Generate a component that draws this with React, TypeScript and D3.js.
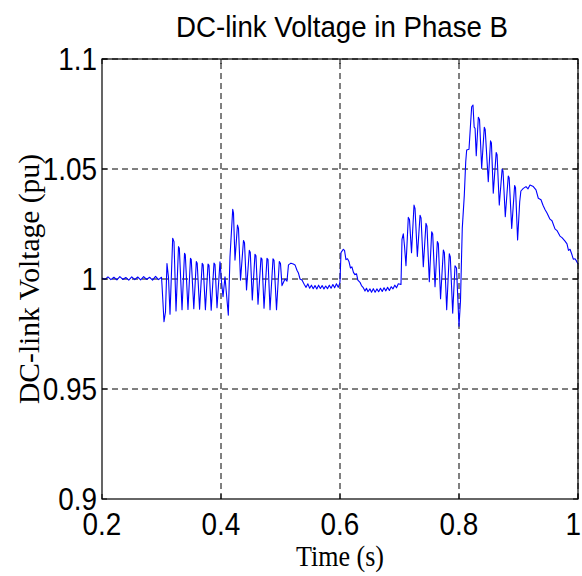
import React, { useEffect, useRef } from "react";
import * as d3 from "d3";

const title = "DC-link Voltage in Phase B";
const xLabel = "Time (s)";
const yLabel = "DC-link Voltage (pu)";

const xTicks = [0.2, 0.4, 0.6, 0.8, 1];
const xTickLabels = ["0.2", "0.4", "0.6", "0.8", "1"];
const yTicks = [0.9, 0.95, 1, 1.05, 1.1];
const yTickLabels = ["0.9", "0.95", "1", "1.05", "1.1"];

// [time (s), voltage (pu)]
const steady = [
  [0.2, 1.0005], [0.205, 0.9998], [0.21, 1.001], [0.215, 0.9997], [0.22, 1.0008],
  [0.225, 0.9996], [0.23, 1.0011], [0.235, 0.9998], [0.24, 1.0007], [0.245, 0.9995],
  [0.25, 1.001], [0.255, 0.9997], [0.26, 1.0009], [0.265, 0.9996], [0.27, 1.0011],
  [0.275, 0.9998], [0.28, 1.0008], [0.285, 0.9995], [0.29, 1.0012], [0.295, 0.9997],
  [0.3, 1.0008],
];

const event1 = [
  [0.3008, 0.9975], [0.3042, 0.9806], [0.3067, 0.985], [0.3092, 1.007], [0.3118, 1.0005],
  [0.3143, 0.984], [0.3188, 1.0185], [0.321, 1.017], [0.3244, 0.9855], [0.3286, 1.0147],
  [0.33, 1.014], [0.3345, 0.986], [0.3387, 1.0117], [0.34, 1.011], [0.3445, 0.9862],
  [0.3487, 1.0094], [0.35, 1.0088], [0.3543, 0.9865], [0.3585, 1.0079], [0.36, 1.0072],
  [0.364, 0.9863], [0.3684, 1.0071], [0.37, 1.0065], [0.3738, 0.986], [0.3782, 1.0068],
  [0.3798, 1.0062], [0.3835, 0.9858], [0.3882, 1.0072], [0.3899, 1.0066], [0.3933, 0.987],
  [0.3983, 1.0078],
];

const event2 = [
  [0.4008, 0.999], [0.4034, 0.992], [0.4067, 1.001], [0.4123, 0.9836], [0.4151, 1.01],
  [0.4197, 1.0317], [0.421, 1.03], [0.4235, 1.0086], [0.4277, 1.0245], [0.4294, 1.023],
  [0.4328, 0.9995], [0.4378, 1.0175], [0.4395, 1.0165], [0.4429, 0.995], [0.4476, 1.013],
  [0.4492, 1.0122], [0.4526, 0.9905], [0.4571, 1.0112], [0.4588, 1.0105], [0.4622, 0.9885],
  [0.4672, 1.0096], [0.4689, 1.009], [0.4723, 0.9867], [0.4773, 1.0094], [0.479, 1.0088],
  [0.4824, 0.986], [0.4874, 1.0092], [0.4891, 1.0085], [0.4933, 0.986], [0.498, 1.0079],
  [0.5, 1.007], [0.5025, 0.997], [0.5076, 1.0], [0.5109, 0.999], [0.5134, 1.0064],
  [0.5176, 1.0072], [0.5215, 1.0068], [0.5244, 1.0064], [0.5277, 1.004], [0.5303, 1.0026],
  [0.5328, 1.0], [0.5361, 0.9995], [0.54, 0.9975], [0.543, 0.9962], [0.546, 0.9978],
  [0.549, 0.9958], [0.552, 0.9972], [0.555, 0.9956], [0.558, 0.997], [0.561, 0.9955],
  [0.564, 0.9972], [0.567, 0.9957], [0.57, 0.997], [0.573, 0.9955], [0.576, 0.9968],
  [0.579, 0.9956], [0.582, 0.9972], [0.585, 0.9958], [0.588, 0.9975], [0.591, 0.996],
  [0.594, 0.9978], [0.597, 0.9962], [0.5995, 0.998],
];

const event3 = [
  [0.6, 0.999], [0.6017, 1.012], [0.6055, 1.0135], [0.6076, 1.013], [0.61, 1.0088],
  [0.6126, 1.0092], [0.615, 1.008], [0.6176, 1.005], [0.62, 1.0055], [0.6226, 1.003],
  [0.625, 1.002], [0.6277, 1.0024], [0.63, 0.9995], [0.6336, 0.9985], [0.6361, 0.997],
  [0.6387, 0.9962], [0.642, 0.9945], [0.6445, 0.9958], [0.647, 0.9942], [0.6504, 0.9955],
  [0.653, 0.994], [0.656, 0.9956], [0.659, 0.994], [0.662, 0.9955], [0.665, 0.9942],
  [0.668, 0.9958], [0.671, 0.9943], [0.674, 0.996], [0.677, 0.9946], [0.68, 0.9962],
  [0.683, 0.9948], [0.686, 0.9965], [0.689, 0.9955], [0.692, 0.9972], [0.695, 0.996],
  [0.698, 0.9978], [0.7025, 0.9975],
];

const event4 = [
  [0.7042, 1.018], [0.7064, 1.0205], [0.7084, 1.015], [0.7109, 1.006], [0.7148, 1.028],
  [0.7168, 1.027], [0.7202, 1.012], [0.7244, 1.0336], [0.7261, 1.032], [0.73, 1.0102],
  [0.7345, 1.029], [0.7362, 1.0278], [0.74, 1.0056], [0.7445, 1.0253], [0.7462, 1.024],
  [0.7501, 0.9988], [0.7541, 1.0215], [0.7558, 1.0205], [0.7597, 0.9965], [0.7636, 1.017],
  [0.7653, 1.016], [0.769, 0.991], [0.7737, 1.0132], [0.7754, 1.012], [0.7793, 0.986],
  [0.7837, 1.0115], [0.7854, 1.01], [0.7894, 0.9845], [0.7933, 1.006], [0.7958, 1.005],
  [0.8, 0.9785],
];

const event5 = [
  [0.8025, 0.99], [0.8042, 1.009], [0.8055, 1.023], [0.8089, 1.038], [0.8113, 1.0533],
  [0.8129, 1.0586], [0.8168, 1.059], [0.819, 1.0685], [0.8213, 1.0783], [0.8235, 1.0791],
  [0.8255, 1.069], [0.827, 1.0685], [0.829, 1.056], [0.8325, 1.0735], [0.8345, 1.0725],
  [0.8381, 1.0503], [0.8425, 1.069], [0.844, 1.068], [0.8492, 1.0442], [0.853, 1.0628],
  [0.8545, 1.0618], [0.8576, 1.039], [0.8625, 1.0575], [0.864, 1.0565], [0.8677, 1.0336],
  [0.8725, 1.05], [0.874, 1.049], [0.8778, 1.0283], [0.8828, 1.0468], [0.8843, 1.046],
  [0.8886, 1.023], [0.8935, 1.0425], [0.895, 1.0415], [0.8985, 1.0177], [0.902, 1.035],
  [0.904, 1.04], [0.9081, 1.0412], [0.9126, 1.042], [0.916, 1.041], [0.9193, 1.0427],
  [0.9249, 1.042], [0.9294, 1.0405], [0.9333, 1.0367], [0.9378, 1.036], [0.9412, 1.0335],
  [0.9445, 1.0316], [0.9479, 1.03], [0.9529, 1.0272], [0.9563, 1.0265], [0.9613, 1.0228],
  [0.9647, 1.022], [0.9697, 1.0195], [0.9731, 1.0188], [0.9782, 1.0172], [0.9815, 1.016],
  [0.984, 1.013], [0.9866, 1.0135], [0.9899, 1.011], [0.9921, 1.009], [0.995, 1.0092],
  [0.9978, 1.008], [1.0, 1.0068],
];

const W = 582;
const H = 576;
const margin = { left: 102, right: 4, top: 59, bottom: 77 };

const App = () => {
  const ref = useRef(null);

  useEffect(() => {
    const svg = d3.select(ref.current);
    svg.selectAll("*").remove();

    const data = [...steady, ...event1, ...event2, ...event3, ...event4, ...event5];

    const x = d3.scaleLinear().domain([0.2, 1]).range([margin.left, W - margin.right]);
    const y = d3.scaleLinear().domain([0.9, 1.1]).range([H - margin.bottom, margin.top]);

    svg.append("rect").attr("width", W).attr("height", H).attr("fill", "#fff");

    const x0 = x(0.2), x1 = x(1), y0 = y(0.9), y1 = y(1.1);

    // dashed grid
    const grid = svg.append("g").attr("stroke", "#000").attr("stroke-width", 1).attr("stroke-dasharray", "6,4");
    xTicks.slice(1).forEach((t) => {
      grid.append("line").attr("x1", x(t)).attr("x2", x(t)).attr("y1", y0).attr("y2", y1);
    });
    yTicks.slice(1).forEach((t) => {
      grid.append("line").attr("x1", x0).attr("x2", x1).attr("y1", y(t)).attr("y2", y(t));
    });

    // trace
    const line = d3.line().x((d) => x(d[0])).y((d) => y(d[1]));
    svg.append("path")
      .datum(data)
      .attr("d", line)
      .attr("fill", "none")
      .attr("stroke", "#0000ff")
      .attr("stroke-width", 1.1)
      .attr("stroke-linejoin", "round");

    // box + inward ticks
    svg.append("rect")
      .attr("x", x0).attr("y", y1)
      .attr("width", x1 - x0).attr("height", y0 - y1)
      .attr("fill", "none").attr("stroke", "#000").attr("stroke-width", 1.2);

    const ticks = svg.append("g").attr("stroke", "#000").attr("stroke-width", 1);
    xTicks.forEach((t) => {
      ticks.append("line").attr("x1", x(t)).attr("x2", x(t)).attr("y1", y0).attr("y2", y0 - 5);
      ticks.append("line").attr("x1", x(t)).attr("x2", x(t)).attr("y1", y1).attr("y2", y1 + 5);
    });
    yTicks.forEach((t) => {
      ticks.append("line").attr("x1", x0).attr("x2", x0 + 5).attr("y1", y(t)).attr("y2", y(t));
      ticks.append("line").attr("x1", x1).attr("x2", x1 - 5).attr("y1", y(t)).attr("y2", y(t));
    });

    // tick labels (slightly condensed, like the export)
    const sans = "'Liberation Sans', Arial, Helvetica, sans-serif";
    xTicks.forEach((t, i) => {
      const last = i === xTicks.length - 1;
      svg.append("g")
        .attr("transform", `translate(${last ? W - 1 : x(t)},${y0 + 36}) scale(0.9,1)`)
        .append("text")
        .attr("text-anchor", last ? "end" : "middle")
        .attr("font-family", sans)
        .attr("font-size", 31)
        .attr("fill", "#000")
        .text(xTickLabels[i]);
    });
    yTicks.forEach((t, i) => {
      svg.append("g")
        .attr("transform", `translate(${x0 - 5},${y(t) + 11}) scale(0.9,1)`)
        .append("text")
        .attr("text-anchor", "end")
        .attr("font-family", sans)
        .attr("font-size", 31)
        .attr("fill", "#000")
        .text(yTickLabels[i]);
    });

    // title
    svg.append("text")
      .attr("x", 342).attr("y", 37)
      .attr("text-anchor", "middle")
      .attr("font-family", sans)
      .attr("font-size", 30)
      .attr("textLength", 332)
      .attr("lengthAdjust", "spacingAndGlyphs")
      .text(title);

    const serif = "'Liberation Serif', 'Times New Roman', serif";
    svg.append("text")
      .attr("x", (x0 + x1) / 2).attr("y", 566)
      .attr("text-anchor", "middle")
      .attr("font-family", serif)
      .attr("font-size", 30)
      .attr("textLength", 88)
      .attr("lengthAdjust", "spacingAndGlyphs")
      .text(xLabel);

    svg.append("text")
      .attr("transform", `translate(39,${(y0 + y1) / 2}) rotate(-90)`)
      .attr("text-anchor", "middle")
      .attr("font-family", serif)
      .attr("font-size", 30)
      .attr("textLength", 250)
      .attr("lengthAdjust", "spacingAndGlyphs")
      .text(yLabel);
  }, []);

  return (
    <svg
      ref={ref}
      width={W}
      height={H}
      style={{ position: "absolute", left: 0, top: 0, display: "block" }}
    />
  );
};

export default App;
